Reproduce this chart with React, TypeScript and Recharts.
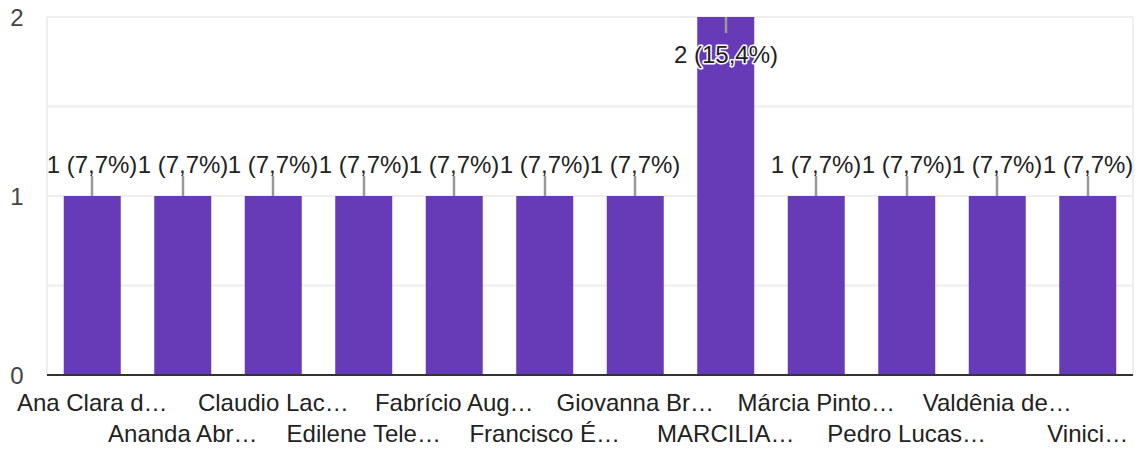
import React from 'react';
import { BarChart, Bar, XAxis, YAxis, CartesianGrid, LabelList } from 'recharts';

const categories = [
  'Ana Clara d…', 'Ananda Abr…', 'Claudio Lac…', 'Edilene Tele…', 'Fabrício Aug…', 'Francisco É…',
  'Giovanna Br…', 'MARCILIA…', 'Márcia Pinto…', 'Pedro Lucas…', 'Valdênia de…', 'Vinici…',
];
const counts = [1, 1, 1, 1, 1, 1, 1, 2, 1, 1, 1, 1];
const yTicks = [0, 0.5, 1, 1.5, 2];
const yMax = 2;

const total = counts.reduce((a, b) => a + b, 0);
const data = categories.map((name, i) => ({ name, count: counts[i] }));

const FONT = '"Liberation Sans", Arial, sans-serif';
const PURPLE = '#673ab7';

const pct = (v: number) => `${v} (${((v / total) * 100).toFixed(1).replace('.', ',')}%)`;

// labels row alternate: even index on first line, odd on second
const XTick = (props: any) => {
  const { x, y, payload, index } = props;
  const row = index % 2;
  return (
    <text x={x} y={y + (row ? 67 : 36)} textAnchor="middle" fontSize={24} fill="#222" fontFamily={FONT}>
      {payload.value}
    </text>
  );
};

const YTick = (props: any) => {
  const { y, payload } = props;
  if (!Number.isInteger(payload.value)) return null;
  return (
    <text x={17} y={y + 8.5} textAnchor="middle" fontSize={24} fill="#444" fontFamily={FONT}>
      {payload.value}
    </text>
  );
};

const ValueLabel = (props: any) => {
  const { x, y, width, value } = props;
  const cx = Math.round(Number(x) + Number(width) / 2);
  const top = Number(y);
  const inside = Number(value) >= yMax;
  if (inside) {
    return (
      <g>
        <line x1={cx} x2={cx} y1={top} y2={top + 16} stroke="#999" strokeWidth={2.5} />
        <text x={cx} y={top + 46} textAnchor="middle" fontSize={24} fill="#222" fontFamily={FONT}
          stroke="#fff" strokeWidth={3} strokeLinejoin="round" style={{ paintOrder: 'stroke' }}>
          {pct(Number(value))}
        </text>
      </g>
    );
  }
  return (
    <g>
      <line x1={cx} x2={cx} y1={top} y2={top - 20} stroke="#999" strokeWidth={2.5} />
      <text x={cx} y={top - 23} textAnchor="middle" fontSize={24} fill="#222" fontFamily={FONT}>
        {pct(Number(value))}
      </text>
    </g>
  );
};

export default function App() {
  return (
    <div style={{ position: 'absolute', left: 0, top: 0, width: 1140, height: 450, background: '#fff' }}>
      <BarChart width={1140} height={450} data={data} barCategoryGap="18.5%"
        margin={{ top: 17, right: 7, left: 0, bottom: 0 }}>
        <CartesianGrid stroke="#eeeeee" strokeWidth={2}
          verticalCoordinatesGenerator={({ offset }: any) => [offset.left, offset.left + offset.width]} />
        <YAxis domain={[0, yMax]} ticks={yTicks} width={47} axisLine={false} tickLine={false} tick={<YTick />} />
        <XAxis dataKey="name" interval={0} height={75} tickLine={false} tickSize={0} tickMargin={0}
          axisLine={{ stroke: '#333', strokeWidth: 2 }} tick={<XTick />} />
        <Bar dataKey="count" fill={PURPLE} isAnimationActive={false}>
          <LabelList dataKey="count" content={<ValueLabel />} />
        </Bar>
      </BarChart>
    </div>
  );
}
